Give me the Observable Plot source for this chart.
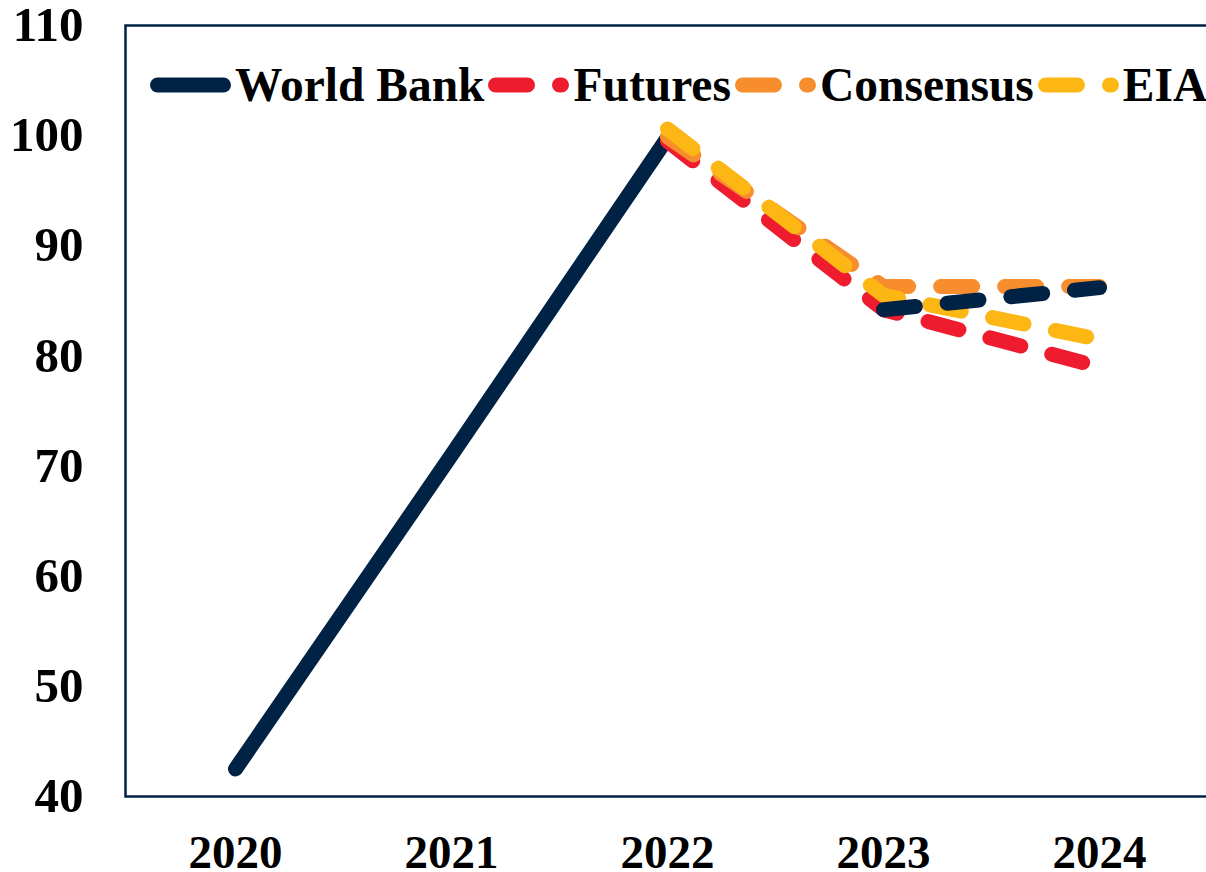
<!DOCTYPE html>
<html>
<head>
<meta charset="utf-8">
<script src="https://cdn.jsdelivr.net/npm/d3@7"></script>
<script src="https://cdn.jsdelivr.net/npm/@observablehq/plot@0.6"></script>
<style>
  html, body { margin: 0; padding: 0; background: #fff; overflow: hidden; }
  #wrap { position: relative; width: 1206px; height: 872px; }
  #legend { position: absolute; left: 150px; top: 58px; display: flex; align-items: center;
            font-family: "Liberation Serif", "Times New Roman", serif; font-weight: bold; font-size: 47.5px; color: #000; white-space: nowrap; }
  #legend .item { display: flex; align-items: center; margin-right: 4px; }
  #legend svg { display: block; margin-right: 4px; }
</style>
</head>
<body>
<div id="wrap"><div id="chart"></div><div id="legend"></div></div>
<script>
const years = ["2020", "2021", "2022", "2023", "2024"];
const worldBankActual = [42.5, 71.0, 99.8, null, null];
const worldBankForecast = [null, null, null, 84.2, 86.2];
const futures = [null, null, 99.5, 84.2, 79.0];
const consensus = [null, null, 99.9, 86.3, 86.3];
const eia = [null, null, 100.6, 85.5, 81.5];
const yTicks = [40, 50, 60, 70, 80, 90, 100, 110];
const seriesNames = ["World Bank", "Futures", "Consensus", "EIA"];
const seriesColors = ["#002345", "#EE1C2E", "#F78D2D", "#FDB714"];

const toRows = (vals) => years.map((y, i) => ({year: y, value: vals[i]})).filter(d => d.value != null);
const dash = "32,32";
const sw = 15;

const chart = Plot.plot({
  width: 1206,
  height: 872,
  marginLeft: 125,
  marginRight: 0,
  marginTop: 25,
  marginBottom: 76,
  style: {fontFamily: "'Liberation Serif', 'Times New Roman', serif", fontSize: "46px", fontWeight: "bold", color: "#000", background: "#fff", overflow: "hidden"},
  x: {type: "point", domain: years, padding: 0.5, range: [125, 1208], label: null},
  y: {domain: [40, 110], label: null},
  marks: [
    Plot.axisY({ticks: yTicks, tickSize: 0, tickPadding: 42, label: null, fontSize: 49, fontWeight: "bold"}),
    Plot.axisX({tickSize: 0, tickPadding: 38, label: null, fontSize: 47, fontWeight: "bold"}),
    Plot.frame({stroke: "#002345", strokeWidth: 2.5, insetRight: -10}),
    Plot.line(toRows(worldBankActual), {x: "year", y: "value", stroke: seriesColors[0], strokeWidth: sw, strokeLinecap: "round", strokeLinejoin: "round"}),
    Plot.line(toRows(futures), {x: "year", y: "value", stroke: seriesColors[1], strokeWidth: sw, strokeDasharray: dash, strokeLinecap: "round", strokeLinejoin: "round"}),
    Plot.line(toRows(consensus), {x: "year", y: "value", stroke: seriesColors[2], strokeWidth: sw, strokeDasharray: dash, strokeLinecap: "round", strokeLinejoin: "round"}),
    Plot.line(toRows(eia), {x: "year", y: "value", stroke: seriesColors[3], strokeWidth: sw, strokeDasharray: dash, strokeLinecap: "round", strokeLinejoin: "round"}),
    Plot.line(toRows(worldBankForecast), {x: "year", y: "value", stroke: seriesColors[0], strokeWidth: sw, strokeDasharray: dash, strokeLinecap: "round", strokeLinejoin: "round"})
  ]
});
document.getElementById("chart").appendChild(chart);

const legend = d3.select("#legend");
seriesNames.forEach((name, i) => {
  const item = legend.append("div").attr("class", "item");
  const s = item.append("svg").attr("width", 81).attr("height", 30);
  s.append("line").attr("x1", 7.5).attr("x2", 73.5).attr("y1", 15).attr("y2", 15)
    .attr("stroke", seriesColors[i]).attr("stroke-width", sw).attr("stroke-linecap", "round")
    .attr("stroke-dasharray", i === 0 ? null : dash);
  item.append("span").text(name);
});
</script>
</body>
</html>
